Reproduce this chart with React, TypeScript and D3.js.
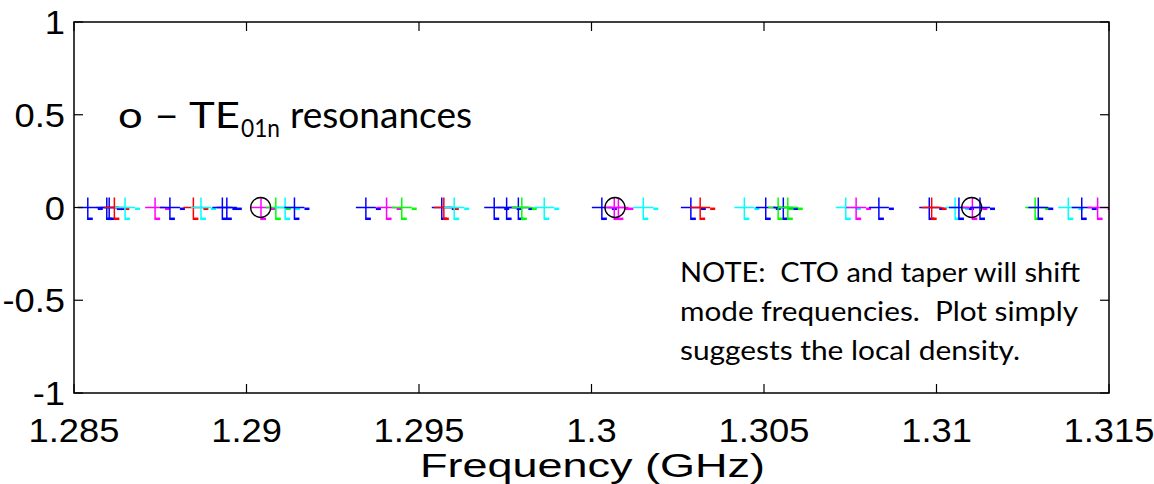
import React from "react";
import * as d3 from "d3";

const xTicks = [1.285, 1.29, 1.295, 1.3, 1.305, 1.31, 1.315];
const xTickLabels = ["1.285", "1.29", "1.295", "1.3", "1.305", "1.31", "1.315"];
const yTicks = [-1, -0.5, 0, 0.5, 1];
const yTickLabels = ["-1", "-0.5", "0", "0.5", "1"];

// resonance frequencies (GHz) and their colours
const modeFreqs = [
  1.2854, 1.28595, 1.28602, 1.28617, 1.28648, 1.28735, 1.28778, 1.28846, 1.28868, 1.2893,
  1.28943, 1.29042, 1.29085, 1.29112, 1.29139, 1.29346, 1.29406, 1.2945, 1.29566, 1.29572,
  1.29602, 1.29718, 1.29754, 1.29788, 1.29798, 1.29863, 1.3003, 1.30066, 1.30078, 1.3015,
  1.30288, 1.30315, 1.30443, 1.30505, 1.30541, 1.30556, 1.30569, 1.30737, 1.30767, 1.30833,
  1.30979, 1.30986, 1.31054, 1.31065, 1.31104, 1.31126, 1.31286, 1.31295, 1.31382, 1.31421,
  1.31467,
];
const modeColors = [
  "b", "b", "b", "r", "c", "m", "b", "r", "c", "b",
  "b", "m", "g", "c", "b", "b", "m", "g", "b", "r",
  "c", "b", "b", "b", "g", "c", "b", "m", "m", "c",
  "b", "r", "c", "b", "g", "b", "g", "c", "m", "b",
  "b", "r", "c", "b", "m", "b", "g", "b", "c", "b",
  "m",
];
const te01nFreqs = [1.29041, 1.30068, 1.31102];

const noteLines = [
  "NOTE:\u00a0 CTO and taper will shift",
  "mode frequencies.\u00a0 Plot simply",
  "suggests the local density.",
];
const noteWidths = [400, 398, 340];

const colorMap: Record<string, string> = {
  b: "#0000ff",
  r: "#ff0000",
  c: "#00ffff",
  m: "#ff00ff",
  g: "#00ff00",
};

const W = 1154;
const H = 484;
const L = 74;
const R = 1109;
const T = 22;
const B = 393;

export default function App() {
  const x = d3.scaleLinear().domain([1.285, 1.315]).range([L, R]);
  const y = d3.scaleLinear().domain([-1, 1]).range([B, T]);
  const font = "'Liberation Sans', Arial, sans-serif";
  const sans2 = "Lato, 'Open Sans', sans-serif";
  const tickLen = 9;
  const y0 = y(0);

  return (
    <svg
      width={W}
      height={H}
      style={{ position: "absolute", left: 0, top: 0, background: "#fff" }}
    >
      <defs>
        <clipPath id="plotClip">
          <rect x={L} y={T} width={R - L} height={B - T} />
        </clipPath>
      </defs>
      <rect x={0} y={0} width={W} height={H} fill="#fff" />

      <g clipPath="url(#plotClip)">
        {modeFreqs.map((f, i) => {
          const cx = x(f);
          const col = colorMap[modeColors[i]];
          return (
            <g key={i} stroke={col} fill="none">
              <line x1={cx - 10} x2={cx + 10} y1={y0} y2={y0} strokeWidth={1.5} />
              <line x1={cx} x2={cx} y1={y0 - 10} y2={y0 + 12.5} strokeWidth={1.5} />
              <line x1={cx} x2={cx + 5} y1={y0 + 11.3} y2={y0 + 11.3} strokeWidth={2.5} />
              <line x1={cx + 10} x2={cx + 15} y1={y0 + 1.3} y2={y0 + 1.3} strokeWidth={2.5} />
            </g>
          );
        })}
        {te01nFreqs.map((f, i) => (
          <circle key={i} cx={x(f)} cy={y0} r={10} fill="none" stroke="#000" strokeWidth={1.3} />
        ))}
      </g>

      {/* axes box */}
      <rect x={L} y={T} width={R - L} height={B - T} fill="none" stroke="#000" strokeWidth={1.5} />
      {xTicks.map((t, i) => (
        <g key={"xt" + i} stroke="#000" strokeWidth={1.2}>
          <line x1={x(t)} x2={x(t)} y1={B} y2={B - tickLen} />
          <line x1={x(t)} x2={x(t)} y1={T} y2={T + tickLen} />
        </g>
      ))}
      {yTicks.map((t, i) => (
        <g key={"yt" + i} stroke="#000" strokeWidth={1.2}>
          <line x1={L} x2={L + tickLen} y1={y(t)} y2={y(t)} />
          <line x1={R} x2={R - tickLen} y1={y(t)} y2={y(t)} />
        </g>
      ))}

      {xTicks.map((t, i) => (
        <text
          key={"xl" + i}
          transform={`translate(${x(t)},442) scale(1.1,1)`}
          textAnchor="middle"
          fontFamily={font}
          fontSize={33}
          fill="#000"
        >
          {xTickLabels[i]}
        </text>
      ))}
      {yTicks.map((t, i) => (
        <text
          key={"yl" + i}
          transform={`translate(65,${y(t) + 12}) scale(1.1,1)`}
          textAnchor="end"
          fontFamily={font}
          fontSize={33}
          fill="#000"
        >
          {yTickLabels[i]}
        </text>
      ))}
      <text
        x={420}
        y={477}
        fontFamily={font}
        fontSize={33}
        fill="#000"
        textLength={345}
        lengthAdjust="spacingAndGlyphs"
      >
        Frequency (GHz)
      </text>

      <g fontFamily={sans2} fill="#000">
        <text x={118} y={128} fontSize={37} textLength={122} lengthAdjust="spacingAndGlyphs">
          o – TE
        </text>
        <text x={241} y={137} fontSize={25} textLength={39} lengthAdjust="spacingAndGlyphs">
          01n
        </text>
        <text x={290} y={128} fontSize={37} textLength={182} lengthAdjust="spacingAndGlyphs">
          resonances
        </text>
      </g>

      <g fontFamily={sans2} fontSize={27} fill="#000">
        {noteLines.map((s, i) => (
          <text
            key={i}
            x={680}
            y={282 + i * 39}
            textLength={noteWidths[i]}
            lengthAdjust="spacingAndGlyphs"
          >
            {s}
          </text>
        ))}
      </g>
    </svg>
  );
}
